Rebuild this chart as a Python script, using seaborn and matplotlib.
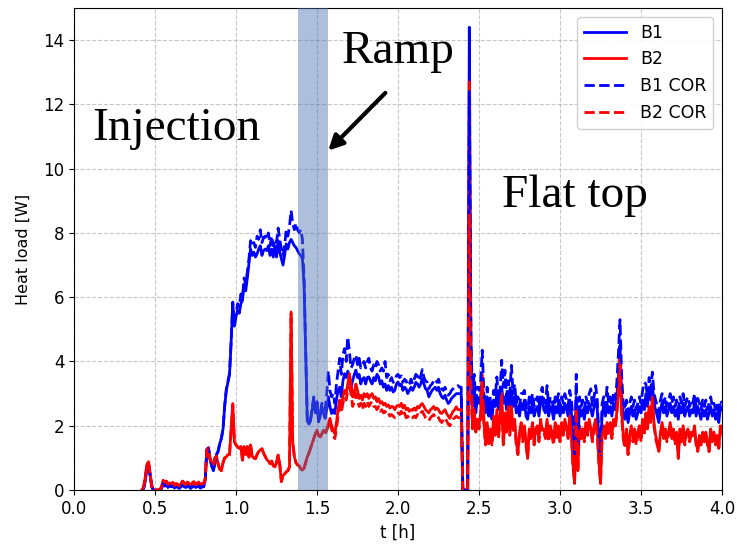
import numpy as np
import pandas as pd
import matplotlib
matplotlib.use("Agg")
import matplotlib.pyplot as plt
import seaborn as sns

# Heat load time series, sampled every 0.01 h starting at t = 0.42 h
t_start, t_step = 0.42, 0.01

b1 = [
    0.0, 0.05, 0.3, 0.7, 0.8, 0.45, 0.1, 0.0,
    0.0, 0.0, 0.0, 0.0, 0.05, 0.2, 0.12, 0.18, 0.08, 0.15,
    0.1, 0.14, 0.06, 0.12, 0.08, 0.05, 0.1, 0.15, 0.1, 0.08,
    0.12, 0.1, 0.05, 0.1, 0.13, 0.08, 0.1, 0.12, 0.06, 0.1,
    0.1, 0.3, 1.25, 1.3, 0.95, 0.75, 0.6, 0.85, 1.1, 1.2,
    1.45, 1.6, 1.9, 2.6, 3.1, 3.35, 3.6, 4.6, 5.8, 5.1,
    5.4, 5.6, 5.5, 5.8, 5.9, 6.4, 6.2, 6.6, 7.05, 7.5,
    7.3, 7.4, 7.25, 7.35, 7.5, 7.6, 7.3, 7.45, 7.5, 7.45,
    7.6, 7.3, 7.5, 7.25, 7.6, 7.25, 7.76, 7.4, 7.2, 7.0,
    7.3, 7.66, 7.5, 7.7, 7.8, 7.7, 7.6, 7.55, 7.45, 7.35,
    7.3, 7.2, 6.4, 4.3, 2.15, 2.05, 2.15, 2.5, 2.85, 2.4,
    2.7, 2.12, 2.3, 2.6, 2.4, 2.23, 2.5, 2.9, 2.6, 2.38,
    2.5, 2.38, 2.8, 3.1, 3.2, 2.9, 3.4, 3.62, 3.5, 3.7,
    3.5, 3.2, 3.4, 3.6, 3.73, 3.5, 3.6, 3.3, 3.45, 3.5,
    3.3, 3.5, 3.52, 3.4, 3.3, 3.5, 3.4, 3.6, 3.52, 3.3,
    3.4, 3.2, 3.3, 3.1, 3.25, 3.1, 3.2, 3.05, 3.1, 3.3,
    3.36, 3.25, 3.3, 3.1, 3.2, 3.15, 3.0, 3.1, 3.2, 3.1,
    3.2, 3.35, 3.3, 3.2, 3.3, 3.47, 3.3, 3.15, 3.1, 2.9,
    3.0, 3.1, 3.15, 3.2, 3.1, 3.2, 3.0, 2.9, 2.85, 2.95,
    2.8, 2.69, 2.75, 2.85, 2.9, 2.95, 3.0, 3.0, 3.0, 3.0,
    0.0, 0.0, 0.0, 0.0, 14.4, 4.5, 2.6, 3.3, 2.4, 2.9,
    2.7, 2.9, 3.4, 2.6, 2.4, 2.9, 2.3, 2.6, 2.2, 2.8,
    2.6, 3.0, 2.5, 2.8, 3.2, 2.7, 2.9, 2.5, 3.0, 2.6,
    3.1, 2.6, 2.9, 2.4, 2.6, 2.3, 2.7, 2.5, 2.8, 2.3,
    2.2, 2.6, 2.4, 2.7, 2.3, 2.5, 2.6, 2.3, 2.7, 2.9,
    2.5, 2.4, 2.8, 2.3, 2.6, 2.5, 2.2, 2.6, 2.4, 2.7,
    2.3, 2.6, 2.4, 2.7, 2.5, 2.3, 2.8, 2.4, 1.6, 1.0,
    2.9, 1.4, 2.6, 2.3, 2.5, 2.2, 2.6, 2.4, 2.7, 2.5,
    2.3, 2.6, 2.8, 2.5, 1.5, 1.2, 2.4, 2.6, 2.3, 2.7,
    2.4, 2.6, 2.3, 2.7, 2.5, 2.9, 3.5, 4.5, 3.0, 2.4,
    2.2, 2.5, 2.1, 2.4, 2.6, 2.3, 2.5, 2.2, 2.4, 2.6,
    2.4, 2.8, 2.5, 3.0, 2.6, 3.2, 2.8, 3.3, 2.7, 2.5,
    2.3, 2.1, 2.5, 2.7, 2.4, 2.6, 2.3, 2.5, 2.7, 2.4,
    2.6, 2.3, 2.5, 2.2, 2.6, 2.4, 2.7, 2.3, 2.5, 2.6,
    2.3, 2.5, 2.4, 2.7, 2.3, 2.6, 2.4, 2.2, 2.5, 2.3,
    2.5, 2.2, 2.4, 2.6, 2.3, 2.5, 2.2, 2.4, 2.1, 2.6,
    2.5,
]

b2 = [
    0.0, 0.1, 0.4, 0.8, 0.88, 0.5, 0.15, 0.0,
    0.0, 0.0, 0.0, 0.0, 0.1, 0.3, 0.25, 0.28, 0.18, 0.22,
    0.2, 0.24, 0.15, 0.2, 0.18, 0.12, 0.2, 0.28, 0.22, 0.18,
    0.25, 0.2, 0.12, 0.22, 0.26, 0.18, 0.2, 0.25, 0.15, 0.2,
    0.2, 0.35, 1.25, 1.3, 0.95, 0.85, 0.75, 1.0, 1.05, 0.8,
    0.65, 0.6, 0.85, 1.0, 1.03, 1.1, 1.1, 1.9, 2.69, 1.5,
    1.4, 1.35, 1.3, 1.35, 0.93, 1.35, 1.1, 1.35, 1.03, 1.4,
    1.05, 1.0, 0.98, 1.1, 1.2, 1.25, 1.29, 1.15, 1.05, 0.95,
    0.9, 0.83, 0.9, 0.75, 0.72, 0.85, 1.09, 0.8, 0.26, 0.45,
    0.5, 0.57, 0.6, 0.72, 5.54, 1.5, 1.05, 0.85, 0.78, 0.75,
    0.65, 0.62, 0.68, 0.85, 1.03, 1.15, 1.3, 1.45, 1.6, 1.75,
    1.86, 1.7, 1.66, 1.75, 1.86, 1.8, 1.9, 2.05, 2.23, 2.0,
    1.86, 1.75, 2.1, 2.5, 2.8, 2.6, 2.9, 3.1, 3.0, 3.3,
    3.62, 3.3, 2.9, 3.0, 3.3, 3.1, 2.85, 2.95, 2.8, 3.0,
    2.9, 3.0, 2.85, 2.95, 3.0, 2.85, 2.9, 2.75, 2.85, 2.7,
    2.75, 2.65, 2.7, 2.6, 2.65, 2.55, 2.6, 2.59, 2.5, 2.6,
    2.64, 2.6, 2.7, 2.55, 2.64, 2.5, 2.55, 2.45, 2.5, 2.48,
    2.55, 2.48, 2.6, 2.55, 2.65, 2.69, 2.6, 2.5, 2.45, 2.4,
    2.5, 2.54, 2.6, 2.5, 2.55, 2.5, 2.4, 2.38, 2.45, 2.5,
    2.38, 2.3, 2.23, 2.35, 2.45, 2.5, 2.59, 2.5, 2.5, 2.5,
    0.0, 0.0, 0.0, 0.0, 12.7, 3.8, 2.0, 2.5, 1.9, 2.2,
    2.0, 2.4, 3.6, 2.2, 1.5, 2.1, 1.46, 1.9, 1.5, 2.3,
    1.8, 2.5, 1.7, 2.3, 3.0, 1.45, 2.4, 1.9, 2.6, 1.8,
    2.6, 1.9, 2.2, 1.5, 1.14, 1.8, 2.1, 1.6, 2.0, 1.5,
    0.98, 1.9, 1.7, 2.1, 1.5, 1.9, 2.0, 1.6, 2.2, 1.86,
    1.9, 1.7, 2.2, 1.6, 2.0, 1.8, 1.5, 2.1, 1.7, 2.0,
    1.55, 2.1, 1.8, 2.2, 1.9, 1.7, 2.3, 1.8, 0.8, 0.2,
    2.6, 0.6, 2.0, 1.7, 1.9, 1.6, 2.1, 1.8, 2.2, 1.9,
    1.6, 2.0, 2.2, 1.8, 0.9, 0.2, 1.8, 2.0, 1.7, 2.1,
    1.8, 2.1, 1.7, 2.2, 2.0, 2.4, 3.2, 4.2, 2.5, 1.7,
    1.4, 1.9, 1.14, 1.7, 2.0, 1.6, 1.9, 1.5, 1.8, 2.0,
    1.6, 2.2, 1.8, 2.4, 2.0, 2.6, 2.2, 2.9, 2.1, 1.7,
    1.5, 1.2, 1.8, 2.1, 1.7, 1.9, 1.6, 1.8, 2.1, 1.7,
    1.9, 1.5, 1.8, 0.98, 1.9, 1.6, 2.0, 1.5, 1.8, 1.9,
    1.6, 1.8, 1.7, 2.0, 1.5, 1.24, 1.7, 1.5, 1.8, 1.6,
    1.8, 1.5, 1.2, 1.9, 1.6, 1.8, 1.5, 1.7, 1.3, 2.0,
    1.8,
]

b1_cor = [
    0.0, 0.05, 0.3, 0.72, 0.82, 0.45, 0.1, 0.0,
    0.0, 0.0, 0.0, 0.0, 0.05, 0.22, 0.14, 0.2, 0.1, 0.16,
    0.11, 0.15, 0.07, 0.13, 0.09, 0.06, 0.11, 0.16, 0.11, 0.09,
    0.13, 0.11, 0.06, 0.11, 0.14, 0.09, 0.11, 0.13, 0.07, 0.11,
    0.1, 0.3, 1.27, 1.32, 0.96, 0.76, 0.6, 0.86, 1.12, 1.22,
    1.47, 1.62, 1.92, 2.62, 3.12, 3.38, 3.62, 4.65, 5.85, 5.15,
    5.5, 5.8, 5.7, 6.1, 6.0, 6.6, 6.4, 6.8, 7.2, 7.76,
    7.6, 7.7, 7.55, 7.9, 7.8, 8.1, 7.7, 7.85, 7.9, 7.8,
    8.0, 7.6, 7.9, 7.6, 7.8, 7.7, 8.15, 7.8, 7.5, 7.3,
    7.6, 8.1, 7.9, 8.2, 8.7, 8.3, 8.1, 8.3, 8.1, 8.0,
    8.1, 7.8, 6.6, 4.4, 2.2, 2.1, 2.2, 2.55, 2.9, 2.45,
    2.75, 2.2, 2.4, 2.7, 2.6, 2.5, 3.0, 3.7, 3.1, 2.9,
    3.0, 2.7, 3.3, 3.7, 4.1, 3.6, 4.2, 4.4, 4.0, 4.76,
    4.3, 3.8, 3.9, 4.1, 4.2, 3.9, 4.1, 3.8, 3.9, 4.0,
    3.8, 4.0, 4.1, 3.8, 3.7, 3.9, 3.8, 4.0, 3.9, 3.7,
    3.8, 3.7, 4.0, 3.5, 3.6, 3.4, 3.5, 3.35, 3.4, 3.55,
    3.6, 3.5, 3.55, 3.35, 3.45, 3.4, 3.25, 3.3, 3.45, 3.3,
    3.45, 3.6, 3.55, 3.4, 3.55, 3.75, 3.5, 3.4, 3.35, 3.15,
    3.25, 3.3, 3.4, 3.45, 3.35, 3.45, 3.25, 3.15, 3.1, 3.2,
    3.05, 2.95, 3.0, 3.1, 3.15, 3.2, 3.2, 3.25, 3.2, 3.2,
    0.0, 0.0, 0.0, 0.0, 12.4, 4.6, 3.0, 3.6, 2.8, 3.2,
    3.1, 3.4, 4.35, 3.0, 2.6, 3.2, 2.5, 2.9, 2.4, 3.1,
    2.9, 3.52, 2.8, 3.1, 4.04, 3.2, 3.73, 2.9, 3.4, 3.0,
    3.88, 3.0, 3.3, 2.7, 2.9, 2.6, 3.0, 3.0, 3.1, 2.6,
    2.5, 2.9, 2.7, 3.0, 2.6, 2.8, 2.9, 2.6, 3.0, 3.2,
    2.8, 2.7, 3.25, 2.6, 2.9, 2.8, 2.5, 2.9, 2.7, 3.0,
    2.6, 2.9, 2.7, 3.0, 2.8, 2.6, 3.1, 2.8, 2.2, 0.8,
    3.6, 1.2, 2.9, 2.6, 2.8, 2.5, 2.9, 2.7, 3.0, 3.15,
    2.6, 2.9, 3.25, 2.8, 1.6, 0.9, 2.7, 2.9, 2.6, 3.2,
    2.7, 2.9, 2.6, 3.0, 2.8, 3.3, 4.2, 5.3, 3.6, 2.7,
    2.5, 2.8, 2.4, 2.7, 2.9, 2.6, 2.8, 2.5, 2.7, 2.9,
    2.7, 3.1, 3.35, 3.3, 2.9, 3.5, 3.1, 3.67, 3.0, 2.8,
    2.6, 2.4, 2.8, 3.0, 2.7, 2.9, 2.6, 2.8, 3.0, 2.7,
    2.9, 2.6, 2.8, 2.5, 2.9, 2.7, 3.0, 2.6, 2.8, 2.9,
    2.6, 2.8, 2.7, 3.0, 2.6, 2.85, 2.7, 2.5, 2.8, 2.6,
    2.8, 2.5, 2.7, 2.9, 2.6, 2.7, 2.5, 2.7, 2.3, 2.8,
    2.7,
]

b2_cor = [
    0.0, 0.1, 0.38, 0.8, 0.86, 0.5, 0.12, 0.0,
    0.0, 0.0, 0.0, 0.0, 0.1, 0.3, 0.24, 0.27, 0.17, 0.22,
    0.19, 0.23, 0.14, 0.2, 0.17, 0.12, 0.19, 0.27, 0.21, 0.17,
    0.24, 0.2, 0.12, 0.21, 0.25, 0.17, 0.2, 0.24, 0.15, 0.2,
    0.2, 0.35, 1.24, 1.3, 0.95, 0.85, 0.75, 1.0, 1.04, 0.8,
    0.65, 0.6, 0.85, 1.0, 1.03, 1.1, 1.1, 1.9, 2.65, 1.5,
    1.4, 1.34, 1.3, 1.35, 0.93, 1.34, 1.1, 1.35, 1.02, 1.4,
    1.05, 1.0, 0.97, 1.1, 1.2, 1.25, 1.28, 1.15, 1.05, 0.95,
    0.9, 0.82, 0.9, 0.75, 0.72, 0.85, 1.08, 0.8, 0.27, 0.45,
    0.5, 0.56, 0.6, 0.72, 5.5, 1.5, 1.05, 0.85, 0.78, 0.75,
    0.65, 0.62, 0.68, 0.85, 1.03, 1.15, 1.3, 1.45, 1.6, 1.75,
    1.85, 1.7, 1.65, 1.75, 1.85, 1.75, 1.85, 2.0, 2.15, 1.9,
    1.7, 1.6, 1.9, 2.3, 2.6, 2.4, 2.7, 2.9, 2.8, 3.1,
    3.2, 3.0, 2.6, 2.75, 3.0, 2.8, 2.6, 2.7, 2.5, 2.7,
    2.6, 2.75, 2.6, 2.7, 2.75, 2.6, 2.6, 2.5, 2.6, 2.45,
    2.5, 2.4, 2.45, 2.35, 2.4, 2.3, 2.35, 2.3, 2.25, 2.35,
    2.4, 2.35, 2.45, 2.3, 2.4, 2.25, 2.3, 2.2, 2.25, 2.25,
    2.3, 2.25, 2.35, 2.3, 2.4, 2.45, 2.35, 2.25, 2.2, 2.15,
    2.25, 2.3, 2.35, 2.25, 2.3, 2.25, 2.15, 2.1, 2.2, 2.25,
    2.15, 2.05, 2.0, 2.1, 2.2, 2.25, 2.3, 2.25, 2.25, 2.25,
    0.0, 0.0, 0.0, 0.0, 8.6, 3.0, 1.9, 2.3, 1.8, 2.1,
    1.9, 2.2, 3.4, 2.0, 1.4, 2.0, 1.35, 1.8, 1.4, 2.1,
    1.7, 2.3, 1.6, 2.2, 2.8, 1.4, 2.2, 1.8, 2.4, 1.7,
    2.4, 1.8, 2.0, 1.4, 1.1, 1.7, 1.9, 1.5, 1.9, 1.4,
    1.0, 1.8, 1.6, 2.0, 1.4, 1.8, 1.9, 1.5, 2.0, 1.8,
    1.8, 1.6, 2.1, 1.5, 1.9, 1.7, 1.4, 2.0, 1.6, 1.9,
    1.5, 2.0, 1.7, 2.1, 1.8, 1.6, 2.2, 1.7, 0.7, 0.25,
    2.5, 0.6, 1.9, 1.6, 1.8, 1.5, 2.0, 1.7, 2.1, 1.8,
    1.5, 1.9, 2.1, 1.7, 0.8, 0.25, 1.7, 1.9, 1.6, 2.0,
    1.7, 2.0, 1.6, 2.1, 1.9, 2.3, 3.0, 3.9, 2.3, 1.6,
    1.3, 1.8, 1.1, 1.6, 1.9, 1.5, 1.8, 1.4, 1.7, 1.9,
    1.5, 2.1, 1.7, 2.3, 1.9, 2.5, 2.1, 2.7, 2.0, 1.6,
    1.4, 1.2, 1.7, 2.0, 1.6, 1.8, 1.5, 1.7, 2.0, 1.6,
    1.8, 1.4, 1.7, 1.0, 1.8, 1.5, 1.9, 1.4, 1.7, 1.8,
    1.5, 1.7, 1.6, 1.9, 1.4, 1.2, 1.6, 1.4, 1.7, 1.5,
    1.7, 1.4, 1.2, 1.8, 1.5, 1.7, 1.4, 1.6, 1.3, 1.9,
    1.7,
]

ramp_span = (1.38, 1.565)
x_ticks = [0.0, 0.5, 1.0, 1.5, 2.0, 2.5, 3.0, 3.5, 4.0]
y_ticks = [0, 2, 4, 6, 8, 10, 12, 14]

t = np.round(t_start + t_step * np.arange(len(b1)), 2)
df = pd.DataFrame({"t": t, "B1": b1, "B2": b2, "B1 COR": b1_cor, "B2 COR": b2_cor})

fig = plt.figure(figsize=(7.37, 5.48), dpi=100)
ax = fig.add_axes([0.1004, 0.1058, 0.8793, 0.8796])

styles = [
    ("B1", "blue", "-"),
    ("B2", "red", "-"),
    ("B1 COR", "blue", "--"),
    ("B2 COR", "red", "--"),
]
for name, color, ls in styles:
    sns.lineplot(data=df, x="t", y=name, ax=ax, color=color, linestyle=ls,
                 linewidth=2, label=name)

ax.axvspan(*ramp_span, color="#4c72b0", alpha=0.45, lw=0, zorder=3)

ax.set_xlim(0, 4.0)
ax.set_ylim(0, 15)
ax.set_xticks(x_ticks)
ax.set_yticks(y_ticks)
ax.grid(True, linestyle="--", color="#b0b0b0", linewidth=0.8, alpha=0.7)
ax.set_axisbelow(True)
ax.set_xlabel("t [h]", fontsize=12)
ax.set_ylabel("Heat load [W]", fontsize=11.5, labelpad=9)
ax.tick_params(labelsize=12)

leg = ax.legend(loc="upper right", fontsize=12.5, framealpha=0.9, handlelength=2.4)
leg.set_zorder(6)

serif = ["Liberation Serif", "DejaVu Serif"]
ax.text(0.63, 11.25, "Injection", family=serif, fontsize=34, ha="center", va="center", zorder=4)
ax.text(2.0, 13.65, "Ramp", family=serif, fontsize=34, ha="center", va="center", zorder=4)
ax.text(3.09, 9.15, "Flat top", family=serif, fontsize=34, ha="center", va="center", zorder=4)
ax.annotate("", xy=(1.557, 10.5), xytext=(1.934, 12.42),
            arrowprops=dict(arrowstyle="-|>", color="black", lw=3, mutation_scale=22),
            zorder=4)

fig.savefig("out.png", dpi=100)
